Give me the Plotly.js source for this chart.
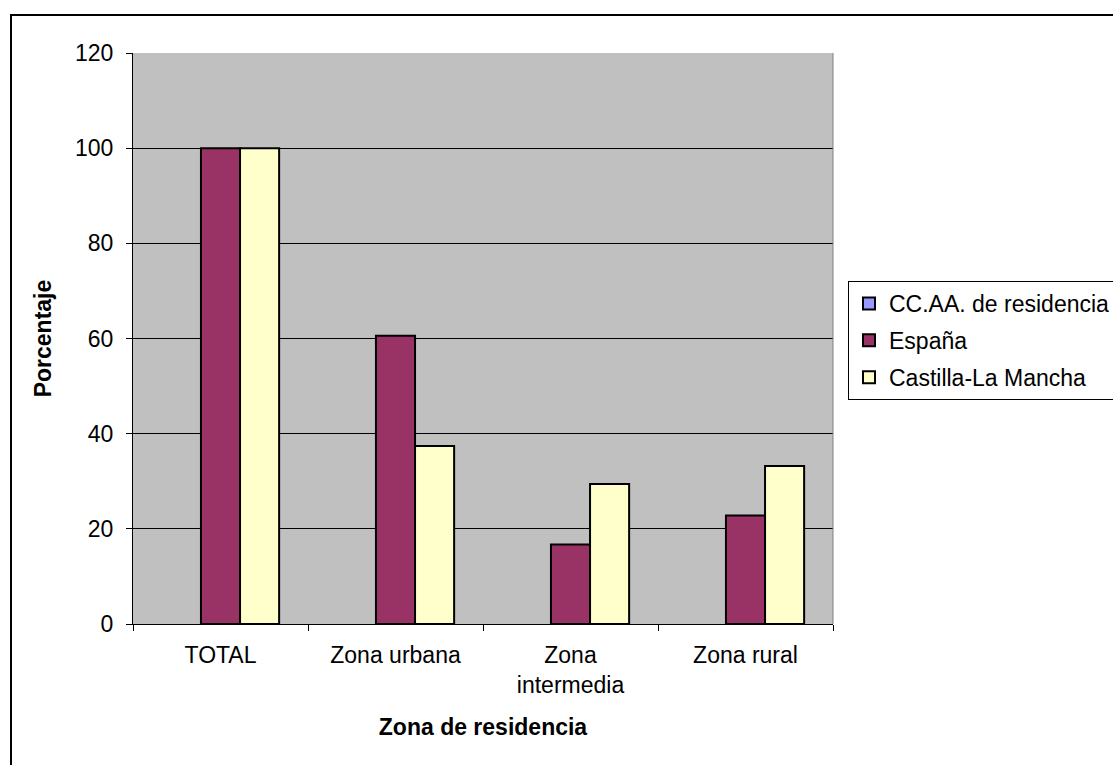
<!DOCTYPE html>
<html>
<head>
<meta charset="utf-8">
<script src="https://cdn.plot.ly/plotly-3.0.1.min.js"></script>
<style>
html, body { margin: 0; padding: 0; background: #ffffff; overflow: hidden; }
#chart { width: 1113px; height: 765px; }
</style>
</head>
<body>
<div id="chart"></div>
<script>
const categories = ["TOTAL", "Zona urbana", "Zona<br>intermedia", "Zona rural"];
const seriesNames = ["CC.AA. de residencia", "España", "Castilla-La Mancha"];
const ccaaValues = [null, null, null, null];
const espanaValues = [100, 60.6, 16.7, 22.8];
const castillaValues = [100, 37.4, 29.4, 33.2];
const yTicks = [0, 20, 40, 60, 80, 100, 120];

const colors = ["#9999FF", "#993366", "#FFFFCC"];
const values = [ccaaValues, espanaValues, castillaValues];

const FONT = "Liberation Sans, Arial, sans-serif";
const FS = 23;

const traces = seriesNames.map((name, i) => ({
  type: "bar",
  name: name,
  x: categories,
  y: values[i],
  legendgroup: "g" + i,
  marker: { color: colors[i], line: { color: "#000000", width: 2 } },
  hoverinfo: "x+y+name"
}));

const layout = {
  width: 1113,
  height: 765,
  margin: { l: 133, r: 280, t: 53, b: 141, autoexpand: false },
  paper_bgcolor: "#ffffff",
  plot_bgcolor: "#C0C0C0",
  barmode: "group",
  bargap: 0.33,
  bargroupgap: 0,
  font: { family: FONT, size: FS, color: "#000000" },
  showlegend: true,
  legend: {
    x: (848 - 133) / 700,
    xanchor: "left",
    y: (624 - 281) / 571,
    yanchor: "top",
    bgcolor: "#ffffff",
    bordercolor: "#000000",
    borderwidth: 1,
    tracegroupgap: 4,
    itemwidth: 30,
    font: { family: FONT, size: FS, color: "#000000" }
  },
  xaxis: {
    type: "category",
    tickson: "boundaries",
    ticks: "outside",
    ticklen: 6,
    tickcolor: "#000000",
    tickwidth: 1,
    showline: true,
    linecolor: "#000000",
    linewidth: 1,
    showgrid: false,
    zeroline: false,
    ticklabelstandoff: 10,
    tickfont: { family: FONT, size: FS, color: "#000000" },
    title: {
      text: "<b>Zona de residencia</b>",
      font: { family: FONT, size: FS, color: "#000000" },
      standoff: 22
    }
  },
  yaxis: {
    range: [0, 120],
    tickvals: yTicks,
    ticktext: yTicks.map(String),
    ticks: "outside",
    ticklen: 6,
    tickcolor: "#000000",
    tickwidth: 1,
    showline: true,
    linecolor: "#000000",
    linewidth: 1,
    showgrid: true,
    gridcolor: "#000000",
    gridwidth: 1,
    zeroline: false,
    ticklabelstandoff: 8,
    tickfont: { family: FONT, size: FS, color: "#000000" },
    title: {
      text: "<b>Porcentaje</b>",
      font: { family: FONT, size: FS, color: "#000000" },
      standoff: 16
    }
  },
  shapes: [
    {
      type: "rect", xref: "paper", yref: "paper",
      x0: (11 - 133) / 700, x1: 1.6,
      y0: -0.5, y1: (624 - 15) / 571,
      line: { color: "#000000", width: 2 },
      fillcolor: "rgba(0,0,0,0)", layer: "above"
    },
    {
      type: "line", xref: "paper", yref: "paper",
      x0: 1, x1: 1, y0: 0, y1: 1,
      line: { color: "#808080", width: 1 }, layer: "above"
    }
  ]
};

Plotly.newPlot("chart", traces, layout, { displayModeBar: false, staticPlot: true });
</script>
</body>
</html>
